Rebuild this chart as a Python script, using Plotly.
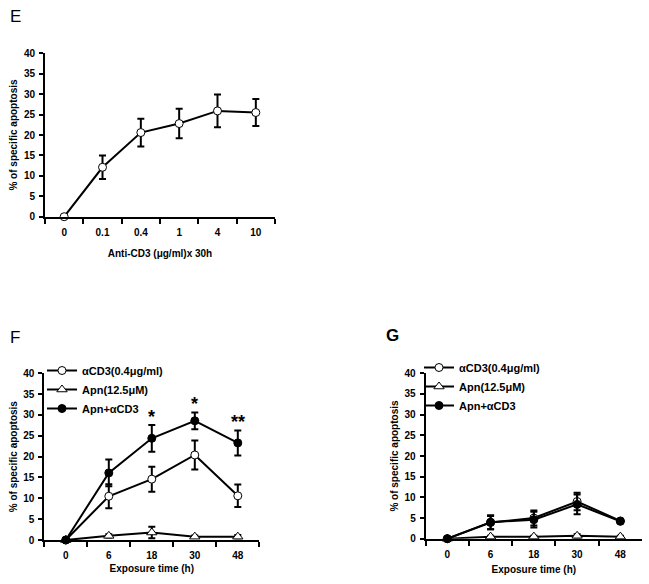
import plotly.graph_objects as go

W, H = 649, 584
FONT = "Arial, Liberation Sans, sans-serif"

# ---------- Panel E data ----------
e_doses = ["0", "0.1", "0.4", "1", "4", "10"]
e_mean = [0, 12.1, 20.6, 22.8, 25.9, 25.5]
e_err = [0, 2.9, 3.4, 3.6, 4.0, 3.3]

# ---------- Panel F data ----------
times = ["0", "6", "18", "30", "48"]
f_cd3 = [0, 10.5, 14.6, 20.4, 10.6]
f_cd3_err = [0, 2.9, 3.0, 3.5, 2.7]
f_apn = [0, 1.0, 1.8, 0.8, 0.8]
f_apn_err = [0, 0.4, 1.4, 0.3, 0.4]
f_comb = [0, 16.1, 24.4, 28.6, 23.3]
f_comb_err = [0, 3.2, 3.2, 2.0, 3.0]
f_sig = ["", "", "*", "*", "**"]

# ---------- Panel G data ----------
g_cd3 = [0, 3.9, 5.0, 9.0, 4.3]
g_cd3_err = [0, 1.6, 1.8, 2.1, 0.3]
g_apn = [0, 0.5, 0.5, 0.7, 0.5]
g_apn_err = [0, 0.2, 0.2, 0.4, 0.2]
g_comb = [0, 4.0, 4.6, 8.3, 4.2]
g_comb_err = [0, 1.7, 1.9, 2.4, 0.3]

legend_names = ["\u03b1CD3(0.4\u03bcg/ml)", "Apn(12.5\u03bcM)", "Apn+\u03b1CD3"]

fig = go.Figure()

def err(arr):
    return dict(type="data", array=arr, visible=True, color="black", thickness=2, width=3.5)

# Panel E
fig.add_trace(go.Scatter(
    x=e_doses, y=e_mean, error_y=err(e_err), mode="lines+markers",
    line=dict(color="black", width=2),
    marker=dict(symbol="circle", size=8, color="white", line=dict(color="black", width=1)),
    xaxis="x", yaxis="y", showlegend=False, cliponaxis=False))

def add_series(xa, ya, legend, vals):
    (c, ce), (a, ae), (m, me) = vals
    fig.add_trace(go.Scatter(
        x=times, y=a, error_y=err(ae), mode="lines+markers", name=legend_names[1],
        line=dict(color="black", width=2),
        marker=dict(symbol="triangle-up", size=9, color="white", line=dict(color="black", width=1)),
        xaxis=xa, yaxis=ya, legend=legend, legendrank=2, cliponaxis=False))
    fig.add_trace(go.Scatter(
        x=times, y=c, error_y=err(ce), mode="lines+markers", name=legend_names[0],
        line=dict(color="black", width=2),
        marker=dict(symbol="circle", size=8, color="white", line=dict(color="black", width=1)),
        xaxis=xa, yaxis=ya, legend=legend, legendrank=1, cliponaxis=False))
    fig.add_trace(go.Scatter(
        x=times, y=m, error_y=err(me), mode="lines+markers", name=legend_names[2],
        line=dict(color="black", width=2),
        marker=dict(symbol="circle", size=8, color="black", line=dict(color="black", width=1)),
        xaxis=xa, yaxis=ya, legend=legend, legendrank=3, cliponaxis=False))

add_series("x2", "y2", "legend", [(f_cd3, f_cd3_err), (f_apn, f_apn_err), (f_comb, f_comb_err)])
add_series("x3", "y3", "legend2", [(g_cd3, g_cd3_err), (g_apn, g_apn_err), (g_comb, g_comb_err)])

# significance stars
for i, (s, m, e) in enumerate(zip(f_sig, f_comb, f_comb_err)):
    if s:
        fig.add_annotation(x=i, y=m + e, xref="x2", yref="y2", text=s, showarrow=False,
                           yanchor="bottom", yshift=-4,
                           font=dict(family=FONT, size=18, color="black", weight="bold"))

tickfont = dict(family=FONT, size=10, color="black", weight="bold")
titlefont = dict(family=FONT, size=10, color="black", weight="bold")

def xax(domain, cats, title, standoff):
    return dict(domain=domain, type="category", categoryarray=cats, categoryorder="array",
                range=[-0.5, len(cats) - 0.5], showline=True, linecolor="black", linewidth=2,
                ticks="outside", ticklen=5, tickwidth=1.5, tickcolor="black", tickson="boundaries",
                showgrid=False, zeroline=False, tickfont=tickfont, ticklabelstandoff=5,
                automargin=False, title=dict(text=title, font=titlefont, standoff=standoff))

def yax(domain, anchor, title):
    return dict(domain=domain, anchor=anchor, range=[0, 40], dtick=5, showline=True,
                linecolor="black", linewidth=2, ticks="outside", ticklen=4, tickwidth=1.5,
                tickcolor="black", showgrid=False, zeroline=False, tickfont=tickfont,
                ticklabelstandoff=2,
                automargin=False, title=dict(text=title, font=titlefont, standoff=4))

ytitle = "% of specific apoptosis"
fig.update_layout(
    width=W, height=H, plot_bgcolor="white", paper_bgcolor="white",
    margin=dict(l=0, r=0, t=0, b=0, autoexpand=False),
    xaxis=dict(**xax([45 / W, 275 / W], e_doses, "Anti-CD3 (\u03bcg/ml)x 30h", 13), anchor="y"),
    yaxis=yax([1 - 216.7 / H, 1 - 53.3 / H], "x", ytitle),
    xaxis2=dict(**xax([44.3 / W, 259.3 / W], times, "Exposure time (h)", 5), anchor="y2"),
    yaxis2=yax([1 - 540 / H, 1 - 373.3 / H], "x2", ytitle),
    xaxis3=dict(**xax([425.7 / W, 642 / W], times, "Exposure time (h)", 7), anchor="y3"),
    yaxis3=yax([1 - 538.7 / H, 1 - 373.3 / H], "x3", ytitle),
    legend=dict(x=42 / W, y=1 - 356 / H, xanchor="left", yanchor="top", bgcolor="rgba(0,0,0,0)",
                font=dict(family=FONT, size=11, color="black", weight="bold"), itemwidth=30,
                tracegroupgap=0),
    legend2=dict(x=419 / W, y=1 - 353 / H, xanchor="left", yanchor="top", bgcolor="rgba(0,0,0,0)",
                 font=dict(family=FONT, size=11, color="black", weight="bold"), itemwidth=30,
                 tracegroupgap=0),
)

for txt, x, y, wt in [("E", 8, 17, "normal"), ("F", 8, 337, "normal"), ("G", 384, 335, "bold")]:
    fig.add_annotation(x=x / W, y=1 - y / H, xref="paper", yref="paper", text=txt, showarrow=False,
                       xanchor="left", yanchor="middle",
                       font=dict(family=FONT, size=17, color="black", weight=wt))

fig.write_html("out.html", config={"displayModeBar": False},
               post_script="document.body.style.margin='0';document.body.style.overflow='hidden';")
